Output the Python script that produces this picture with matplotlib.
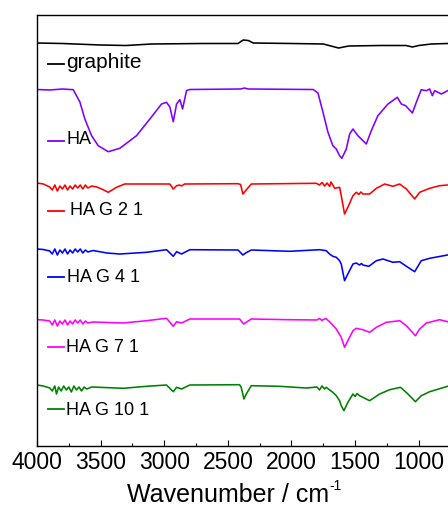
import matplotlib
matplotlib.use("Agg")
import matplotlib.pyplot as plt
from matplotlib.ticker import MultipleLocator
import numpy as np

plt.rcParams["font.family"] = ["Liberation Sans", "DejaVu Sans"]

# ------------------------------------------------------------
# Spectra (transmittance, a.u., baseline = 0)
# ------------------------------------------------------------
graphite_wn = [4000, 3800, 3500, 3300, 3100, 2700, 2420, 2380, 2340, 2300, 2000,
               1750, 1660, 1630, 1550, 1300, 1100, 1050, 1000, 900, 773]
graphite_t = [0, -0.5, -2, -2.5, -1, -0.5, -0.5, 3, 2.5, 0, -0.5,
              -1, -4, -5, -3, -2.5, -2.5, -4, -2.5, -1, -0.5]

ha_wn = [4000, 3900, 3800, 3715, 3663, 3624, 3571, 3519, 3440, 3349, 3218, 3113,
         3021, 2982, 2956, 2929, 2903, 2877, 2856, 2825, 2800, 2400, 2370, 2340,
         1830, 1792, 1753, 1714, 1675, 1648, 1622, 1604, 1569, 1543, 1517, 1478,
         1412, 1373, 1321, 1242, 1168, 1137, 1103, 1050, 1019, 980, 940, 914,
         893, 875, 822, 773]
ha_t = [0, -0.5, 0.5, -0.2, -12.5, -29.5, -46.2, -56.2, -62.2, -58.8, -46.2, -29.5,
        -14.5, -12.8, -17.5, -32.2, -14.5, -10.2, -19.5, -1.2, 0, 0.5, 1.5, 0.5,
        0, -3.5, -22.5, -42.5, -56.2, -59.5, -66.2, -68.8, -59.5, -44.5, -39.5, -46.2,
        -54.5, -41.2, -26.2, -14.5, -7.8, -14.5, -16.2, -23.5, -12.8, -0.2, -1.2, 0.5,
        -6.2, -1.2, -4.5, -1.2]

hag21_wn = [4000, 3950, 3900, 3880, 3860, 3840, 3820, 3800, 3780, 3760, 3740, 3720,
            3700, 3680, 3660, 3640, 3620, 3600, 3570, 3530, 3480, 3440, 3375, 3310,
            2956, 2929, 2903, 2880, 2864, 2840, 2420, 2400, 2382, 2361, 2316, 1805,
            1780, 1760, 1740, 1720, 1700, 1690, 1675, 1661, 1622, 1609, 1583, 1557,
            1517, 1491, 1470, 1455, 1439, 1386, 1333, 1268, 1203, 1150, 1097, 1032,
            993, 914, 836, 773]
hag21_t = [0.5, -0.5, -3.5, -6.5, -1.5, -7.5, -2.5, -5.5, -1.5, -6.5, -2.5, -5.5,
           -1.5, -4.5, -1.5, -5.5, -1.5, -4.5, -2.5, -3.5, -6.2, -8.8, -3.8, -0.5,
           -0.5, -5.5, -2.2, -1.5, -2.5, -0.5, -0.2, -1, -10.5, -7.2, -0.5, 0.2,
           -1.5, 1, -2.5, 0.5, -3, 1.5, -1.5, -4.8, -3.8, -12.2, -30.5, -23.8,
           -12.2, -8.8, -11, -8.5, -10.5, -10.5, -4.8, -0.5, -2.8, -0.5, -5.5, -15.5,
           -8.8, -4.8, -2.2, -1.5]

hag41_wn = [4000, 3950, 3900, 3880, 3860, 3840, 3820, 3800, 3780, 3760, 3740, 3720,
            3700, 3680, 3660, 3640, 3620, 3600, 3560, 3450, 3349, 3139, 2982, 2929,
            2903, 2864, 2799, 2420, 2382, 2360, 2316, 2015, 1779, 1727, 1701, 1675,
            1648, 1622, 1609, 1583, 1557, 1517, 1491, 1465, 1450, 1439, 1392, 1333,
            1281, 1203, 1150, 1097, 1032, 980, 914, 773]
hag41_t = [1, 0.5, -1, -4, 1, -5, 0, -3, 1, -4, 0, -3,
           1, -2, 1, -3, 0, -2, -0.5, -3, -4, -2.3, 0.3, -6.3,
           -1.7, -4, 0.3, 0, -5, -3, 0, -1.3, 0.3, -0.7, -4, -6.3,
           -7.3, -10.7, -14, -30.7, -24, -14, -13, -15, -13.5, -15, -16.3, -10.7,
           -9, -12.3, -11.7, -16.3, -21.7, -10.7, -8.3, -5]

hag71_wn = [4000, 3950, 3900, 3880, 3860, 3840, 3820, 3800, 3780, 3760, 3740, 3720,
            3700, 3680, 3660, 3640, 3620, 3600, 3560, 3322, 3139, 2982, 2929, 2903,
            2864, 2799, 2408, 2376, 2316, 2015, 1800, 1780, 1760, 1753, 1730, 1701,
            1648, 1609, 1583, 1557, 1517, 1491, 1439, 1386, 1333, 1254, 1150, 1097,
            1026, 993, 940, 836, 773]
hag71_t = [-0.7, -1, -2, -6, -1, -7, -2, -5, -1, -6, -2, -5,
           -1, -4, -1, -5, -2, -4, -3, -4, -1.7, 0.7, -7.3, -2.7,
           -4, 0, 0, -5, 0, -0.7, -1, 0.5, -1.5, -0.7, 0.5, -2.7,
           -10, -18.3, -28.3, -21.7, -11.7, -9.3, -10.7, -13.3, -8.3, -3.3, -1.7, -6.7,
           -16.7, -10, -4, -0.7, -2.7]

hag101_wn = [4000, 3950, 3900, 3880, 3860, 3847, 3830, 3810, 3790, 3770, 3750, 3730,
             3710, 3690, 3670, 3650, 3630, 3610, 3570, 3322, 3139, 2982, 2929, 2903,
             2864, 2799, 2408, 2395, 2374, 2355, 2316, 2094, 1884, 1800, 1780, 1760,
             1740, 1727, 1700, 1675, 1648, 1622, 1609, 1588, 1557, 1517, 1500, 1485,
             1465, 1386, 1307, 1228, 1143, 1085, 1026, 980, 914, 773]
hag101_t = [0, -1, -3, -6, -1, -9, -2, -6, -1, -5, -2, -7,
            -1, -5, -2, -6, -2, -4, -2, -3.3, -1.3, 0, -6.7, -2.3,
            -4, 0, 0.3, -2.3, -14, -9, -0.7, -1.3, -3, -2, -5, -1,
            -4, -2.3, -5, -7.3, -10.7, -15.7, -20.7, -25.7, -17.3, -9, -11.5, -8.5,
            -10.7, -15.7, -9, -4.7, -2.3, -9, -16.7, -10.7, -6.7, -1.3]

labels = ["graphite", "HA", "HA G 2 1", "HA G 4 1", "HA G 7 1", "HA G 10 1"]
colors = ["#000000", "#8000ff", "#ff0000", "#0000ff", "#ff00ff", "#008000"]
offsets = [403, 356.5, 262.5, 196, 127, 61]
spectra = [(graphite_wn, graphite_t), (ha_wn, ha_t), (hag21_wn, hag21_t),
           (hag41_wn, hag41_t), (hag71_wn, hag71_t), (hag101_wn, hag101_t)]

# label placement in axes fraction: (dash y, text x, text baseline y, size)
label_pos = [(0.886, 0.0713, 0.879, 15), (0.708, 0.0713, 0.702, 13),
             (0.546, 0.081, 0.538, 13), (0.391, 0.073, 0.383, 13),
             (0.230, 0.0713, 0.221, 13), (0.086, 0.0713, 0.074, 13)]

fig = plt.figure(figsize=(4.48, 5.10), dpi=100)
ax = fig.add_axes([37 / 448, 63 / 510, 411 / 448, 431 / 510])

for (wn, t), off, col in zip(spectra, offsets, colors):
    ax.plot(wn, np.array(t) + off, color=col, lw=1.15)

for (dy, tx, ty, fs), lab, col in zip(label_pos, labels, colors):
    ax.plot([0.0268, 0.065], [dy, dy], color=col, lw=1.3,
            transform=ax.transAxes, clip_on=False)
    ax.text(tx, ty, lab, transform=ax.transAxes, fontsize=fs,
            ha="left", va="baseline", color="black")

ax.set_xlim(4000, 770)
ax.set_ylim(0, 431)
ax.xaxis.set_major_locator(MultipleLocator(500))
ax.xaxis.set_minor_locator(MultipleLocator(250))
ax.tick_params(axis="x", which="major", direction="in", length=4, width=0.8,
               labelsize=16.5, pad=3)
ax.tick_params(axis="x", which="minor", direction="in", length=2, width=0.8)
ax.set_yticks([])
ax.spines["right"].set_visible(False)
for s in ["left", "top", "bottom"]:
    ax.spines[s].set_linewidth(1.0)

# axis title with a plain hyphen in the superscript
xt = fig.text(126.7 / 448, (510 - 501.7) / 510, "Wavenumber / cm",
              ha="left", va="baseline", fontsize=18)
renderer = fig.canvas.get_renderer()
bb = xt.get_window_extent(renderer=renderer)
fig.text(bb.x1 / fig.bbox.width + 1.0 / 448, (510 - 490) / 510, "-1",
         ha="left", va="baseline", fontsize=10)

fig.savefig("out.png", dpi=100, facecolor="white")
